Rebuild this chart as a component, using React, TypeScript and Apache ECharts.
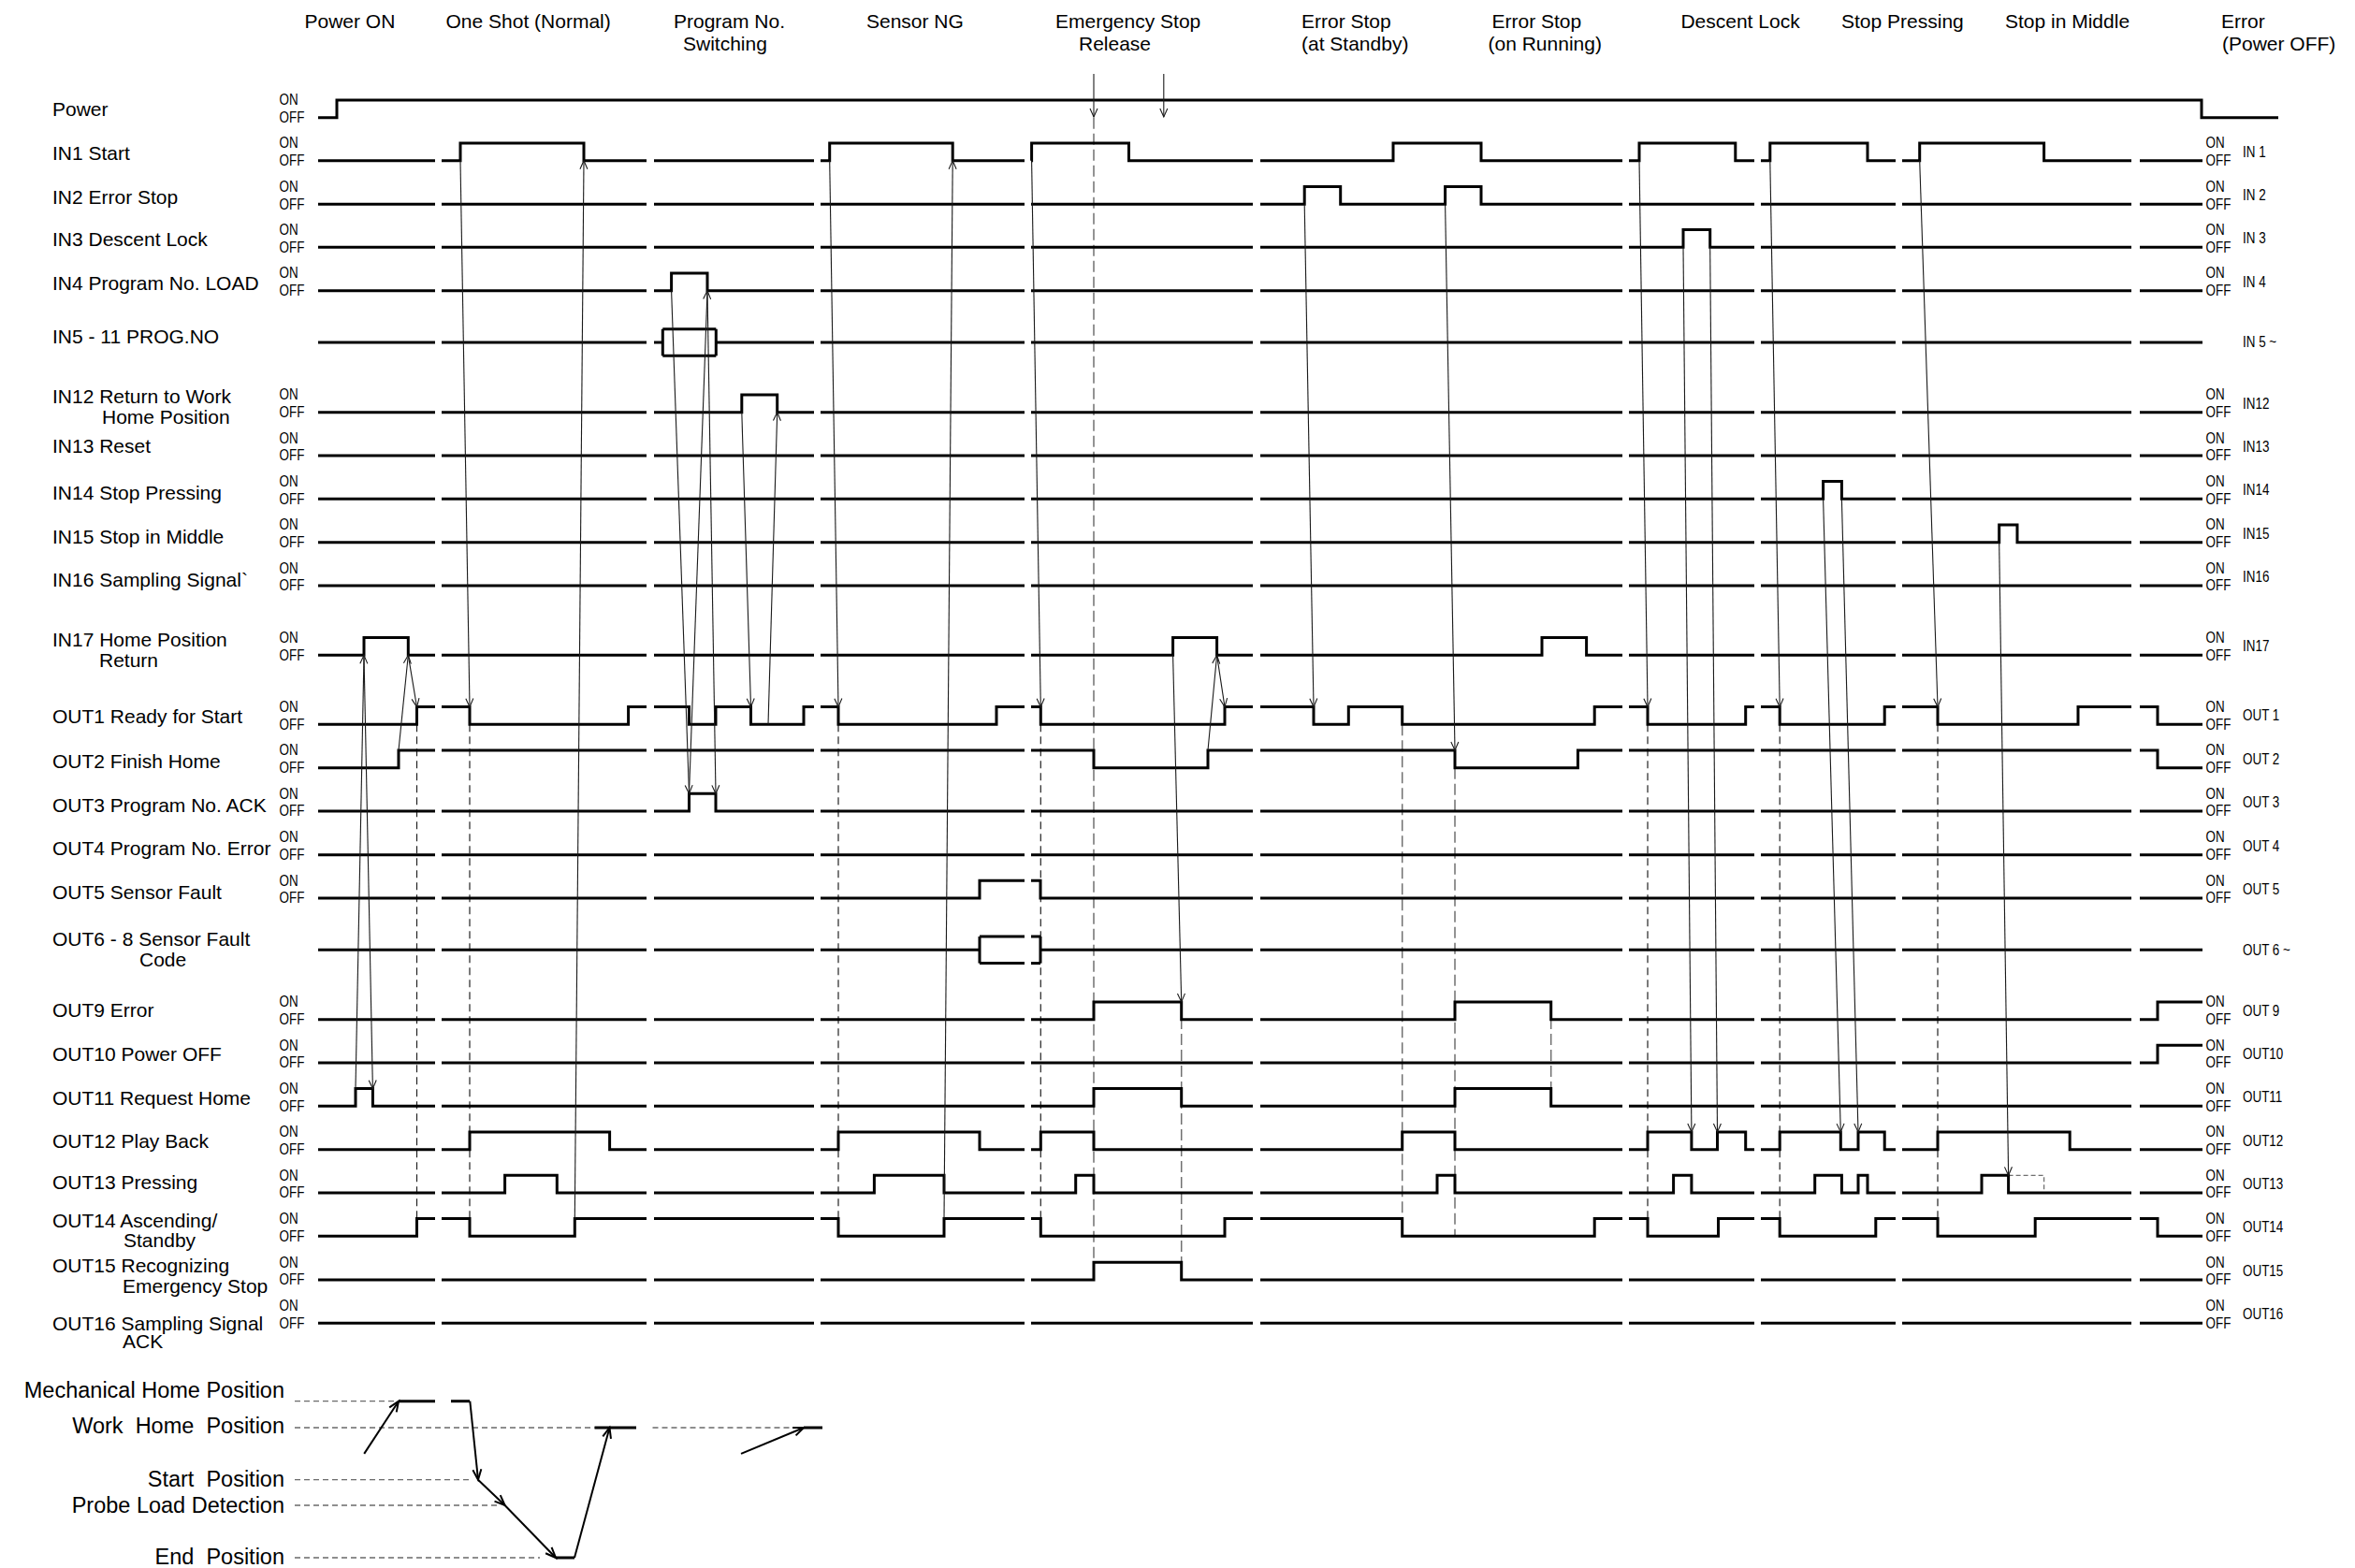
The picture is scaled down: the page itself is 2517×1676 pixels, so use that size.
import React, { useEffect, useRef } from "react";
import * as echarts from "echarts";

const W = 2517;
const H = 1676;

// ---------- scenario titles ----------
const TITLE_LINE1 = ["Power ON", "One Shot (Normal)", "Program No.", "Sensor NG", "Emergency Stop", "Error Stop", "Error Stop", "Descent Lock", "Stop Pressing", "Stop in Middle", "Error"];
const TITLE_LINE2 = ["", "", "Switching", "", "Release", "(at Standby)", "(on Running)", "", "", "", "(Power OFF)"];
const TITLE_X1 = [325.5, 476.5, 720, 926, 1128, 1391, 1594.5, 1796.4, 1968, 2143, 2374];
const TITLE_X2 = [0, 0, 730, 0, 1153, 1391, 1590.5, 0, 0, 0, 2375];

// ---------- rows ----------
const ROW_KEYS = ["Power", "IN1", "IN2", "IN3", "IN4", "IN5", "IN12", "IN13", "IN14", "IN15", "IN16", "IN17", "OUT1", "OUT2", "OUT3", "OUT4", "OUT5", "OUT6", "OUT9", "OUT10", "OUT11", "OUT12", "OUT13", "OUT14", "OUT15", "OUT16"];
const ROW_LABELS = [
  "Power", "IN1 Start", "IN2 Error Stop", "IN3 Descent Lock", "IN4 Program No. LOAD", "IN5 - 11 PROG.NO",
  "IN12 Return to Work\nHome Position", "IN13 Reset", "IN14 Stop Pressing", "IN15 Stop in Middle", "IN16 Sampling Signal`",
  "IN17 Home Position\nReturn", "OUT1 Ready for Start", "OUT2 Finish Home", "OUT3 Program No. ACK", "OUT4 Program No. Error",
  "OUT5 Sensor Fault", "OUT6 - 8 Sensor Fault\nCode", "OUT9 Error", "OUT10 Power OFF", "OUT11 Request Home", "OUT12 Play Back",
  "OUT13 Pressing", "OUT14 Ascending/\nStandby", "OUT15 Recognizing\nEmergency Stop", "OUT16 Sampling Signal\nACK"
];
const ROW_TAGS = ["", "IN 1", "IN 2", "IN 3", "IN 4", "IN 5 ~", "IN12", "IN13", "IN14", "IN15", "IN16", "IN17", "OUT 1", "OUT 2", "OUT 3", "OUT 4", "OUT 5", "OUT 6 ~", "OUT 9", "OUT10", "OUT11", "OUT12", "OUT13", "OUT14", "OUT15", "OUT16"];
const ROW_BUS = ["IN5", "OUT6"];

// transition times of every signal (toggle points, starting from OFF)
const POWER = [360, 2353];
const IN1 = [492, 624, 886.7, 1018.2, 1102.6, 1206.5, 1489, 1583, 1752, 1854.8, 1891.8, 1996, 2051.7, 2184.6];
const IN2 = [1394.2, 1432.7, 1544.6, 1583];
const IN3 = [1799, 1827.7];
const IN4 = [717.6, 756];
const IN5 = [708.3, 765.3];
const IN12 = [792.8, 830.7];
const IN13: number[] = [];
const IN14 = [1948.6, 1968.4];
const IN15 = [2136.7, 2156];
const IN16: number[] = [];
const IN17 = [389, 436.3, 1253.6, 1300.6, 1648, 1695.6];
const OUT1 = [445.5, 502, 671.6, 736.5, 765, 802.5, 859, 896, 1065, 1112.3, 1309, 1404, 1441.3, 1498.7, 1704.2, 1761, 1865.7, 1902.2, 2014.2, 2071, 2221, 2306];
const OUT2 = [426, 1169, 1291, 1555, 1686.4, 2306];
const OUT3 = [736.5, 765];
const OUT4: number[] = [];
const OUT5 = [1047, 1112];
const OUT6 = [1047, 1112];
const OUT9 = [1169, 1262.7, 1555, 1657.7, 2306];
const OUT10 = [2306];
const OUT11 = [380, 398.4, 1169, 1262.7, 1555, 1657.7];
const OUT12 = [502, 651.6, 896, 1047, 1112.3, 1169, 1498.7, 1555, 1761, 1807.9, 1835.5, 1865.7, 1902.2, 1967.3, 1986, 2014.2, 2071, 2212.2];
const OUT13 = [539.6, 595.3, 934.4, 1009, 1149.7, 1169, 1536, 1555, 1788.6, 1807.9, 1939.7, 1968.4, 1986, 1996, 2118, 2146.6];
const OUT14 = [445.5, 502, 614.3, 896, 1009, 1112.3, 1309, 1498.7, 1704.2, 1761, 1836.5, 1902.2, 2004.8, 2071, 2175.2, 2306];
const OUT15 = [1169, 1262.7];
const OUT16: number[] = [];
const SIGNALS = [POWER, IN1, IN2, IN3, IN4, IN5, IN12, IN13, IN14, IN15, IN16, IN17, OUT1, OUT2, OUT3, OUT4, OUT5, OUT6, OUT9, OUT10, OUT11, OUT12, OUT13, OUT14, OUT15, OUT16];

// breaks between scenarios (time ranges)
const GAPS = [[465, 472], [691, 699], [870, 877], [1095, 1102], [1339, 1347], [1734, 1741], [1875, 1882], [2026, 2033], [2278, 2287]];
const T_START = 340;
const T_END = 2354;
const POWER_END = 2435;

// cause -> effect arrows: [t1, row1, level1, t2, row2, level2]
const CAUSES: any[] = [
  [380, "OUT11", 1, 389, "IN17", 0],
  [389, "IN17", 0, 398.4, "OUT11", 1],
  [426, "OUT2", 1, 436.3, "IN17", 0],
  [436.3, "IN17", 0, 445.5, "OUT1", 1],
  [492, "IN1", 0, 502, "OUT1", 1],
  [614.3, "OUT14", 1, 624, "IN1", 0],
  [717.6, "IN4", 0, 736.5, "OUT3", 1],
  [736.5, "OUT3", 1, 756, "IN4", 0],
  [756, "IN4", 0, 765, "OUT3", 1],
  [792.8, "IN12", 0, 802.5, "OUT1", 1],
  [821, "OUT1", 0, 830.7, "IN12", 0],
  [886.7, "IN1", 0, 896, "OUT1", 1],
  [1009, "OUT14", 1, 1018.2, "IN1", 0],
  [1102.6, "IN1", 0, 1112.3, "OUT1", 1],
  [1253.6, "IN17", 0, 1262.7, "OUT9", 1],
  [1291, "OUT2", 1, 1300.6, "IN17", 0],
  [1300.6, "IN17", 0, 1309, "OUT1", 1],
  [1394.2, "IN2", 0, 1404, "OUT1", 1],
  [1544.6, "IN2", 0, 1555, "OUT2", 1],
  [1752, "IN1", 0, 1761, "OUT1", 1],
  [1799, "IN3", 0, 1807.9, "OUT12", 1],
  [1827.7, "IN3", 0, 1835.5, "OUT12", 1],
  [1891.8, "IN1", 0, 1902.2, "OUT1", 1],
  [1948.6, "IN14", 0, 1967.3, "OUT12", 1],
  [1968.4, "IN14", 0, 1986, "OUT12", 1],
  [2051.7, "IN1", 0, 2071, "OUT1", 1],
  [2136.7, "IN15", 0, 2146.6, "OUT13", 1]
];

// vertical dashed timing marks: [t, topRow, topLevel, bottomRow, bottomLevel, grey?]
const MARKS: any[] = [
  [445.5, "OUT1", 0, "OUT14", 1, 0],
  [502, "OUT1", 0, "OUT14", 1, 0],
  [896, "OUT1", 0, "OUT14", 1, 0],
  [1112.3, "OUT1", 0, "OUT14", 1, 0],
  [1169, "Power", 0, "OUT15", 0, 1],
  [1262.7, "OUT9", 1, "OUT15", 0, 1],
  [1498.7, "OUT1", 0, "OUT14", 0, 1],
  [1555, "OUT2", 0, "OUT14", 0, 1],
  [1657.7, "OUT9", 1, "OUT11", 0, 1],
  [1761, "OUT1", 0, "OUT14", 1, 0],
  [1902.2, "OUT1", 0, "OUT14", 1, 0],
  [2071, "OUT1", 0, "OUT14", 1, 0]
];
// dashed "would-be" pulse on OUT13 (stop in middle)
const PHANTOM = [2146.6, 2184.6];
// emergency stop / release markers above the Power line
const ESTOP_TIMES = [1169, 1243.8];

// ---------- motion profile ----------
const MOTION_LABELS = ["Mechanical Home Position", "Work  Home  Position", "Start  Position", "Probe Load Detection", "End  Position"];
const MOTION_PATH = [[389.2, 1.5, 426, 0], [502.3, 0, 511, 2], [511, 2, 539.6, 3], [539.6, 3, 594, 4], [614, 4, 651.5, 1], [792, 1.5, 859, 1]];
const MOTION_HOLD = [[426, 465, 0], [482, 502, 0], [594, 614, 4], [635.5, 680, 1], [859, 879, 1]];
const MOTION_GUIDE = [[315, 425, 0], [315, 635.5, 1], [697.5, 855, 1], [315, 505, 2], [315, 534, 3], [315, 577, 4]];

// ---------- layout ----------
const ROW_Y = [125.7, 171.7, 218.3, 264.3, 310.7, 366, 440.7, 487, 533.3, 579.7, 626, 700.3, 774.3, 820.7, 867, 913.7, 960, 1015.3, 1089.7, 1136, 1182.3, 1228.7, 1275, 1321.3, 1368, 1414.3];
const ON_H = 18.7;
const BUS_H = 14.3;
const LABEL_X = 56;
const LABEL_DY1 = [-9, -8.7, -7.5, -8.6, -7.9, -7, -17.7, -10.8, -6.8, -6.4, -7, -17, -8.5, -7.4, -7, -7.7, -6.7, -12.3, -10.7, -9.3, -9, -9.2, -12, -17.3, -16, 0];
const LABEL_DY2 = [0, 0, 0, 0, 0, 0, 4.3, 0, 0, 0, 0, 4.7, 0, 0, 0, 0, 0, 9.7, 0, 0, 0, 0, 0, 3.7, 6, 18.7];
const LABEL2_X = [0, 0, 0, 0, 0, 0, 109, 0, 0, 0, 0, 106, 0, 0, 0, 0, 0, 149, 0, 0, 0, 0, 0, 132, 131, 131];
const MOTION_Y = [1497.7, 1526, 1581.7, 1609, 1665];
const MOTION_LABEL_DY = [-12, -2, -1, 0, -1];
const MOTION_LABEL_X = 304;
const ONOFF_LEFT_X = 298.5;
const ONOFF_RIGHT_X = 2357.5;
const TAG_X = 2397;
const TITLE_Y1 = 22;
const TITLE_Y2 = 46;
const ESTOP_Y = [79, 125];

const FONT = '"Liberation Sans", Arial, Helvetica, sans-serif';

function rowIndex(k: string) { return ROW_KEYS.indexOf(k); }
function lvY(k: string, lvl: number) { return ROW_Y[rowIndex(k)] - (lvl ? ON_H : 0); }
function motionY(l: number) {
  const a = Math.floor(l), b = Math.ceil(l);
  return MOTION_Y[a] + (MOTION_Y[b] - MOTION_Y[a]) * (l - a);
}

function sections(x0: number, x1: number, useGaps: boolean) {
  if (!useGaps) return [[x0, x1]];
  const out: number[][] = [];
  let s = x0;
  for (const g of GAPS) { out.push([s, g[0]]); s = g[1]; }
  out.push([s, x1]);
  return out;
}

function bitRow(tg: number[], yOff: number, yOn: number, x0: number, x1: number, useGaps: boolean) {
  const res: number[][][] = [];
  for (const [s, e] of sections(x0, x1, useGaps)) {
    let lvl = tg.filter((t) => t <= s).length % 2;
    const pts: number[][] = [[s, lvl ? yOn : yOff]];
    for (const t of tg) {
      if (t > s && t < e) {
        pts.push([t, lvl ? yOn : yOff]);
        lvl ^= 1;
        pts.push([t, lvl ? yOn : yOff]);
      }
    }
    pts.push([e, lvl ? yOn : yOff]);
    res.push(pts);
  }
  return res;
}

function busRow(tg: number[], yc: number, h: number, x0: number, x1: number) {
  const res: number[][][] = [];
  for (const [s, e] of sections(x0, x1, true)) {
    let lvl = tg.filter((t) => t <= s).length % 2;
    const bp = [s, ...tg.filter((t) => t > s && t < e), e];
    for (let i = 0; i < bp.length - 1; i++) {
      const a = bp[i], b = bp[i + 1];
      if (lvl === 0) res.push([[a, yc], [b, yc]]);
      else { res.push([[a, yc - h], [b, yc - h]]); res.push([[a, yc + h], [b, yc + h]]); }
      if (i < bp.length - 2) { res.push([[b, yc - h], [b, yc + h]]); lvl ^= 1; }
    }
  }
  return res;
}

function head(x1: number, y1: number, x2: number, y2: number, L: number, w: number) {
  const dx = x2 - x1, dy = y2 - y1;
  const d = Math.hypot(dx, dy);
  const ux = dx / d, uy = dy / d;
  const bx = x2 - ux * L, by = y2 - uy * L;
  return [[bx - uy * w, by + ux * w], [x2, y2], [bx + uy * w, by - ux * w]];
}

function buildSeries() {
  const wave: any[] = [];
  ROW_KEYS.forEach((k, i) => {
    const tg = SIGNALS[i];
    if (ROW_BUS.includes(k)) {
      busRow(tg, ROW_Y[i], BUS_H, T_START, T_END).forEach((c) => wave.push({ coords: c }));
    } else if (k === "Power") {
      bitRow(tg, ROW_Y[i], ROW_Y[i] - ON_H, T_START, POWER_END, false).forEach((c) => wave.push({ coords: c }));
    } else {
      bitRow(tg, ROW_Y[i], ROW_Y[i] - ON_H, T_START, T_END, true).forEach((c) => wave.push({ coords: c }));
    }
  });

  const thin: any[] = [];
  CAUSES.forEach((a) => {
    const x1 = a[0], y1 = lvY(a[1], a[2]), x2 = a[3], y2 = lvY(a[4], a[5]);
    thin.push({ coords: [[x1, y1], [x2, y2]] });
    thin.push({ coords: head(x1, y1, x2, y2, 9, 4) });
  });
  ESTOP_TIMES.forEach((t) => {
    thin.push({ coords: [[t, ESTOP_Y[0]], [t, ESTOP_Y[1]]] });
    thin.push({ coords: head(t, ESTOP_Y[0], t, ESTOP_Y[1], 9, 4) });
  });

  const darkDash: any[] = [];
  const greyDash: any[] = [];
  MARKS.forEach((m) => {
    const item = { coords: [[m[0], lvY(m[1], m[2])], [m[0], lvY(m[3], m[4])]] };
    (m[5] ? greyDash : darkDash).push(item);
  });
  const phantom = [{
    coords: [[PHANTOM[0], lvY("OUT13", 1)], [PHANTOM[1], lvY("OUT13", 1)], [PHANTOM[1], lvY("OUT13", 0)]]
  }];

  const motion: any[] = [];
  MOTION_PATH.forEach((p) => {
    const x1 = p[0], y1 = motionY(p[1]), x2 = p[2], y2 = motionY(p[3]);
    motion.push({ coords: [[x1, y1], [x2, y2]] });
    motion.push({ coords: head(x1, y1, x2, y2, 11, 4.5) });
  });
  const hold = MOTION_HOLD.map((h) => ({ coords: [[h[0], MOTION_Y[h[2]]], [h[1], MOTION_Y[h[2]]]] }));
  const guide = MOTION_GUIDE.map((g) => ({ coords: [[g[0], MOTION_Y[g[2]]], [g[1], MOTION_Y[g[2]]]] }));

  const base = { type: "lines", coordinateSystem: "cartesian2d", polyline: true, silent: true, animation: false, symbol: "none" };
  return [
    { ...base, name: "guide", data: guide, lineStyle: { color: "#6a6a6a", width: 1.3, type: [6, 4], opacity: 1 } },
    { ...base, name: "greyDash", data: greyDash, lineStyle: { color: "#707070", width: 1.5, type: [12, 5], opacity: 1 } },
    { ...base, name: "darkDash", data: darkDash, lineStyle: { color: "#222", width: 1.2, type: [8, 5], opacity: 1 } },
    { ...base, name: "phantom", data: phantom, lineStyle: { color: "#707070", width: 1.3, type: [5, 3], opacity: 1 } },
    { ...base, name: "waves", data: wave, lineStyle: { color: "#000", width: 3, cap: "butt", join: "miter", opacity: 1 } },
    { ...base, name: "hold", data: hold, lineStyle: { color: "#000", width: 3, cap: "butt", opacity: 1 } },
    { ...base, name: "causes", data: thin, lineStyle: { color: "#1a1a1a", width: 1.1, opacity: 1 } },
    { ...base, name: "motion", data: motion, lineStyle: { color: "#000", width: 2, opacity: 1 } }
  ];
}

function buildTexts(chart: any) {
  const px = (x: number, y: number) => chart.convertToPixel({ xAxisIndex: 0, yAxisIndex: 0 }, [x, y]);
  const els: any[] = [];
  const txt = (x: number, y: number, text: string, size: number, align: string, narrow: boolean) => {
    const p = px(x, y);
    els.push({
      type: "text", x: p[0], y: p[1], scaleX: narrow ? 0.84 : 1, silent: true,
      style: { text, x: 0, y: 0, font: `${size}px ${FONT}`, fill: "#000", textAlign: align, textVerticalAlign: "middle" }
    });
  };

  TITLE_LINE1.forEach((t, i) => {
    txt(TITLE_X1[i], TITLE_Y1, t, 21, "left", false);
    if (TITLE_LINE2[i]) txt(TITLE_X2[i], TITLE_Y2, TITLE_LINE2[i], 21, "left", false);
  });

  ROW_KEYS.forEach((k, i) => {
    const y = ROW_Y[i];
    const lines = ROW_LABELS[i].split("\n");
    txt(LABEL_X, y + LABEL_DY1[i], lines[0], 21, "left", false);
    if (lines[1]) txt(LABEL2_X[i], y + LABEL_DY2[i], lines[1], 21, "left", false);
    const bus = ROW_BUS.includes(k);
    if (!bus) {
      txt(ONOFF_LEFT_X, y - ON_H, "ON", 16, "left", true);
      txt(ONOFF_LEFT_X, y, "OFF", 16, "left", true);
    }
    if (k !== "Power") {
      if (!bus) {
        txt(ONOFF_RIGHT_X, y - ON_H, "ON", 16, "left", true);
        txt(ONOFF_RIGHT_X, y, "OFF", 16, "left", true);
        txt(TAG_X, y - ON_H / 2, ROW_TAGS[i], 16, "left", true);
      } else {
        txt(TAG_X, y, ROW_TAGS[i], 16, "left", true);
      }
    }
  });

  MOTION_LABELS.forEach((t, i) => {
    txt(MOTION_LABEL_X, MOTION_Y[i] + MOTION_LABEL_DY[i], t, 23.5, "right", false);
  });
  return els;
}

export default function App() {
  const ref = useRef<HTMLDivElement>(null);
  useEffect(() => {
    const el = ref.current as HTMLDivElement;
    const chart = echarts.init(el, undefined, { renderer: "svg", width: W, height: H });
    chart.setOption({
      animation: false,
      backgroundColor: "#ffffff",
      grid: { left: 0, top: 0, right: 0, bottom: 0, containLabel: false, show: false },
      xAxis: { type: "value", min: 0, max: W, show: false },
      yAxis: { type: "value", min: 0, max: H, inverse: true, show: false },
      series: buildSeries()
    } as any);
    chart.setOption({ graphic: { elements: buildTexts(chart) } } as any);
    return () => chart.dispose();
  }, []);
  return (
    <div
      ref={ref}
      style={{ position: "absolute", left: 0, top: 0, width: W, height: H, background: "#fff" }}
    />
  );
}
